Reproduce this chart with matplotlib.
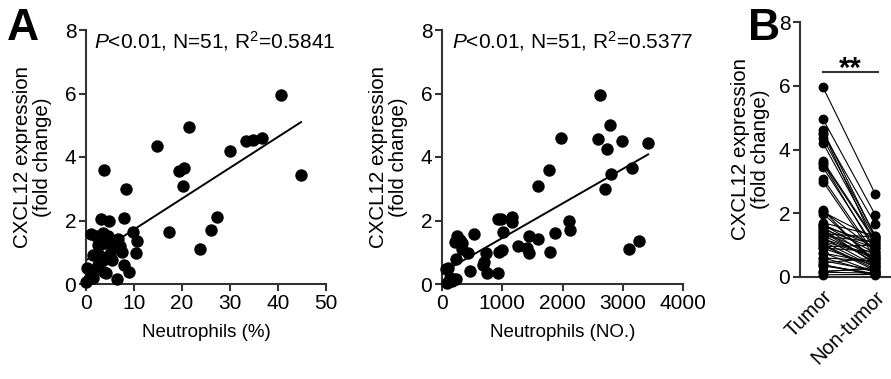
import numpy as np
import matplotlib
matplotlib.use("Agg")
import matplotlib.pyplot as plt

plt.rcParams['font.family'] = ['Liberation Sans', 'DejaVu Sans']
plt.rcParams['mathtext.fontset'] = 'custom'
plt.rcParams['mathtext.rm'] = 'Liberation Sans'
plt.rcParams['mathtext.it'] = 'Liberation Sans:italic'

# ---- Panel A (left): Neutrophils (%) vs CXCL12 ----
neut_pct = [40.7, 21.4, 14.7, 30.1, 33.3, 34.7, 36.6, 44.8, 3.8, 19.3, 20.5, 20.2, 8.35, 3.2, 4.7, 7.85,
            27.3, 26.0, 17.2, 23.8, 1.0, 9.7, 10.6, 10.4, 6.6, 3.5, 2.4, 4.0, 5.6, 7.6, 2.8, 3.5,
            8.0, 9.0, 6.4, 0.3, 1.7, 3.8, 0.7, 0.0, 1.4, 2.0, 4.5, 5.0, 3.0, 6.0, 1.5, 2.5,
            5.5, 4.2, 7.0]
cxcl12_a1 = [5.95, 4.95, 4.35, 4.2, 4.5, 4.53, 4.6, 3.44, 3.59, 3.56, 3.64, 3.09, 2.99, 2.04, 1.99, 2.07,
             2.1, 1.7, 1.63, 1.11, 1.57, 1.64, 1.36, 0.99, 1.41, 1.6, 1.23, 1.28, 1.12, 1.02, 0.91, 0.76,
             0.6, 0.37, 0.16, 0.51, 0.44, 0.39, 0.15, 0.07, 0.18, 1.5, 1.5, 0.95, 1.4, 1.3, 0.9, 0.6,
             0.75, 0.35, 1.2]

# ---- Panel A (right): Neutrophils (NO.) vs CXCL12 ----
neut_no = [2620, 2791, 1968, 2592, 2985, 3421, 2731, 3151, 1780, 2803, 1592, 2698, 934, 978, 1166, 1166,
           2106, 2117, 1017, 531, 243, 215, 337, 431, 724, 1448, 1597, 1868, 1266, 1404, 1448, 1791,
           995, 951, 3107, 3262, 685, 741, 934, 464, 232, 105, 78, 161, 232, 190, 60, 300,
           330, 700, 140]
cxcl12_a2 = [5.95, 5.0, 4.61, 4.56, 4.5, 4.43, 4.26, 3.64, 3.58, 3.45, 3.09, 2.98, 2.04, 2.04, 2.1, 1.96,
             1.98, 1.70, 1.65, 1.56, 1.51, 1.33, 1.28, 0.99, 0.97, 1.52, 1.42, 1.62, 1.2, 1.12, 0.99, 1.01,
             1.07, 1.0, 1.11, 1.36, 0.6, 0.34, 0.36, 0.42, 0.78, 0.51, 0.02, 0.1, 0.16, 0.15, 0.48, 1.4,
             1.1, 0.7, 0.2]

# ---- Panel B: paired Tumor vs Non-tumor ----
groups = ["Tumor", "Non-tumor"]
tumor = cxcl12_a1
nontumor = [2.6, 1.95, 1.3, 1.2, 1.65, 1.0, 1.25, 0.9, 1.1, 0.8,
            1.15, 0.7, 0.6, 1.2, 0.5, 0.85, 0.4, 1.3, 0.75, 0.3,
            0.55, 0.95, 1.25, 0.2, 0.45, 1.05, 0.35, 1.1, 0.65, 0.25,
            0.8, 0.15, 0.5, 0.1, 0.3, 0.2, 0.6, 0.05, 0.12, 0.08,
            0.25, 0.9, 0.4, 1.0, 0.7, 0.55, 0.35, 0.15, 0.45, 0.1,
            0.65]

ann1 = r"$\it{P}$<0.01, N=51, R$^{2}$=0.5841"
ann2 = r"$\it{P}$<0.01, N=51, R$^{2}$=0.5377"
ylabel = "CXCL12 expression\n(fold change)"

W, H = 891, 379
fig = plt.figure(figsize=(W / 100, H / 100), dpi=100)

def px_axes(l, r, top, bottom):
    return fig.add_axes([l / W, 1 - bottom / H, (r - l) / W, (bottom - top) / H])

ax1 = px_axes(86, 326, 30, 284)
ax2 = px_axes(442, 683, 30, 284)
ax3 = px_axes(800, 891, 22, 277)

spine_c = '#333333'
TICK_FS = 15
XLAB_FS = 13.5
YLAB_FS = 14.8

def style(ax):
    for s in ['top', 'right']:
        ax.spines[s].set_visible(False)
    for s in ['left', 'bottom']:
        ax.spines[s].set_linewidth(1.5)
        ax.spines[s].set_color(spine_c)
    ax.tick_params(direction='out', length=5, width=1.5, color=spine_c,
                   labelsize=TICK_FS, pad=2)
    ax.set_ylim(0, 8)
    ax.set_yticks([0, 2, 4, 6, 8])

def scatter_fit(ax, x, y, xmax, xticks):
    x = np.asarray(x, float); y = np.asarray(y, float)
    ax.scatter(x, y, s=80, color='black', zorder=3, clip_on=False, linewidths=0)
    k, b = np.polyfit(x, y, 1)
    xs = np.array([x.min(), x.max()])
    ax.plot(xs, k * xs + b, color='black', lw=1.4, zorder=2)
    ax.set_xlim(0, xmax)
    ax.set_xticks(xticks)
    style(ax)

scatter_fit(ax1, neut_pct, cxcl12_a1, 50, [0, 10, 20, 30, 40, 50])
ax1.set_xlabel("Neutrophils (%)", fontsize=XLAB_FS, labelpad=8)
ax1.set_ylabel(ylabel, fontsize=YLAB_FS, labelpad=9, linespacing=1.05)
ax1.text(0.033, 0.955, ann1, transform=ax1.transAxes, fontsize=15, va='center', ha='left')

scatter_fit(ax2, neut_no, cxcl12_a2, 4000, [0, 1000, 2000, 3000, 4000])
ax2.set_xlabel("Neutrophils (NO.)", fontsize=XLAB_FS, labelpad=8)
ax2.set_ylabel(ylabel, fontsize=YLAB_FS, labelpad=9, linespacing=1.05)
ax2.text(0.04, 0.955, ann2, transform=ax2.transAxes, fontsize=15, va='center', ha='left')

# Panel B
for t, n in zip(tumor, nontumor):
    ax3.plot([0, 1], [t, n], color='black', lw=0.8, zorder=2, clip_on=False)
ax3.scatter(np.zeros(len(tumor)), tumor, s=50, color='black', zorder=3, clip_on=False, linewidths=0)
ax3.scatter(np.ones(len(nontumor)), nontumor, s=50, color='black', zorder=3, clip_on=False, linewidths=0)
ax3.set_xlim(-0.44, 1.3)
ax3.set_xticks([0, 1])
style(ax3)
ax3.set_xticklabels(groups, rotation=45, ha='right', rotation_mode='anchor', fontsize=14.5)
ax3.tick_params(axis='x', length=0, pad=7)
ax3.set_ylabel(ylabel, fontsize=YLAB_FS, labelpad=6, linespacing=1.05)
ax3.plot([0, 1.06], [6.43, 6.43], color=spine_c, lw=1.5, clip_on=False)
ax3.text(0.53, 6.28, "**", fontsize=21, fontweight='bold', ha='center', va='baseline')

fig.text(7 / W, 1 - 28 / H, "A", fontsize=32, fontweight='bold', va='center', ha='left')
fig.text(748 / W, 1 - 28 / H, "B", fontsize=32, fontweight='bold', va='center', ha='left')

fig.savefig("out.png", dpi=100)
